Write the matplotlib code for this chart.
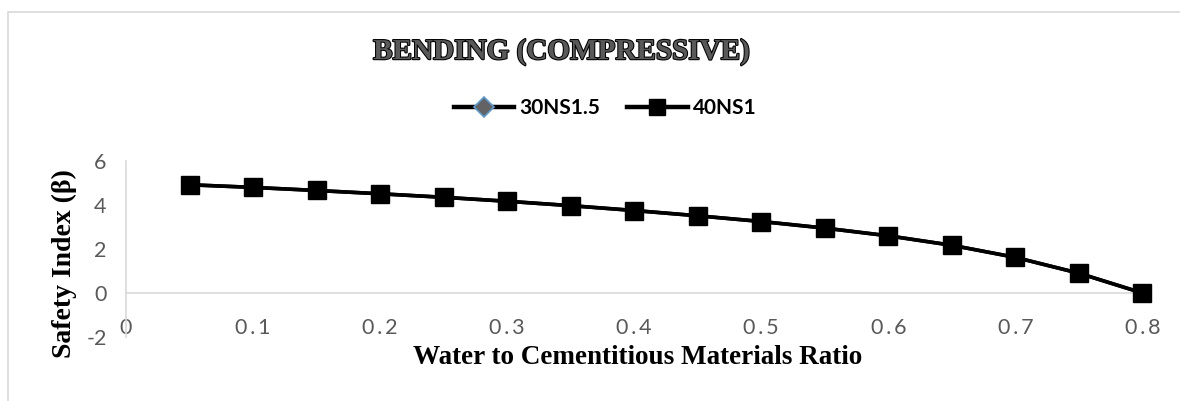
import matplotlib.pyplot as plt
import matplotlib.patheffects as pe
from matplotlib.patches import Rectangle
from matplotlib.ticker import FuncFormatter

plt.rcParams['axes.unicode_minus'] = False

# data
wc_ratio = [0.05, 0.10, 0.15, 0.20, 0.25, 0.30, 0.35, 0.40,
            0.45, 0.50, 0.55, 0.60, 0.65, 0.70, 0.75, 0.80]
beta_30ns15 = [4.92, 4.80, 4.66, 4.51, 4.35, 4.17, 3.97, 3.75,
               3.51, 3.25, 2.95, 2.60, 2.17, 1.62, 0.90, 0.0]
beta_40ns1 = [4.92, 4.80, 4.66, 4.51, 4.35, 4.17, 3.97, 3.75,
              3.51, 3.25, 2.95, 2.60, 2.17, 1.62, 0.90, 0.0]
x_ticks = [0, 0.1, 0.2, 0.3, 0.4, 0.5, 0.6, 0.7, 0.8]
y_ticks = [-2, 0, 2, 4, 6]

W, H = 1180, 401
fig = plt.figure(figsize=(W / 100, H / 100), dpi=100)

# chart border (only top and left are visible in the crop)
fig.patches.append(Rectangle((8 / W, -0.1), 1.2, 1 - 12 / H + 0.1,
                             transform=fig.transFigure, fill=False,
                             edgecolor='#d9d9d9', linewidth=1.2))

ax = fig.add_axes([126 / W, 1 - 337 / H, (1150 - 126) / W, (337 - 161) / H])

ax.plot(wc_ratio, beta_30ns15, color='black', lw=2.6, marker='D', ms=8,
        mfc='#636363', mec='#5b9bd5', mew=1.2, label='30NS1.5', zorder=3)
ax.plot(wc_ratio, beta_40ns1, color='black', lw=2.6, marker='s', ms=13,
        mfc='black', mec='black', label='40NS1', zorder=4, clip_on=False)

ax.set_xlim(0, 0.806)
ax.set_ylim(-2, 6)
ax.set_xticks(x_ticks)
ax.set_yticks(y_ticks)

for s in ['top', 'right']:
    ax.spines[s].set_visible(False)
ax.spines['bottom'].set_position(('data', 0))
ax.spines['left'].set_position(('data', 0))
for s in ['bottom', 'left']:
    ax.spines[s].set_color('#d9d9d9')
    ax.spines[s].set_linewidth(1.2)

def spaced(v, pos):
    s = '0' if v == 0 else f'{v:.1f}'
    return '\u2009'.join(s)

ax.xaxis.set_major_formatter(FuncFormatter(spaced))
ax.tick_params(axis='both', length=0, labelcolor='#595959', labelsize=15.5)
ax.tick_params(axis='x', pad=18)
ax.tick_params(axis='y', pad=14)
for lab in ax.get_xticklabels() + ax.get_yticklabels():
    lab.set_family(['Lato', 'DejaVu Sans'])

fig.text(638 / W, 1 - 358 / H, 'Water to Cementitious Materials Ratio',
         ha='center', va='center', fontsize=19.5, fontweight='bold',
         family='Liberation Serif')
fig.text(64 / W, 1 - 264 / H, 'Safety Index (β)', rotation=90,
         ha='center', va='center', fontsize=20, fontweight='bold',
         family='Liberation Serif')

fig.text(561 / W, 1 - 52 / H, 'BENDING (COMPRESSIVE)', ha='center', va='center',
         fontsize=21, fontweight='bold', family='Liberation Serif',
         color='#595959',
         path_effects=[pe.withStroke(linewidth=1.5, foreground='black')])

leg = fig.legend(loc='center', bbox_to_anchor=(605 / W, 1 - 108 / H), ncol=2,
                 frameon=False, handlelength=2.9, columnspacing=1.3,
                 handletextpad=0.25, prop={'family': 'Lato', 'weight': 'bold', 'size': 15})
for h in leg.legend_handles:
    h.set_linewidth(3.2)
leg.legend_handles[0].set_markersize(10)
leg.legend_handles[1].set_markersize(11)

fig.savefig('out.png', dpi=100)
